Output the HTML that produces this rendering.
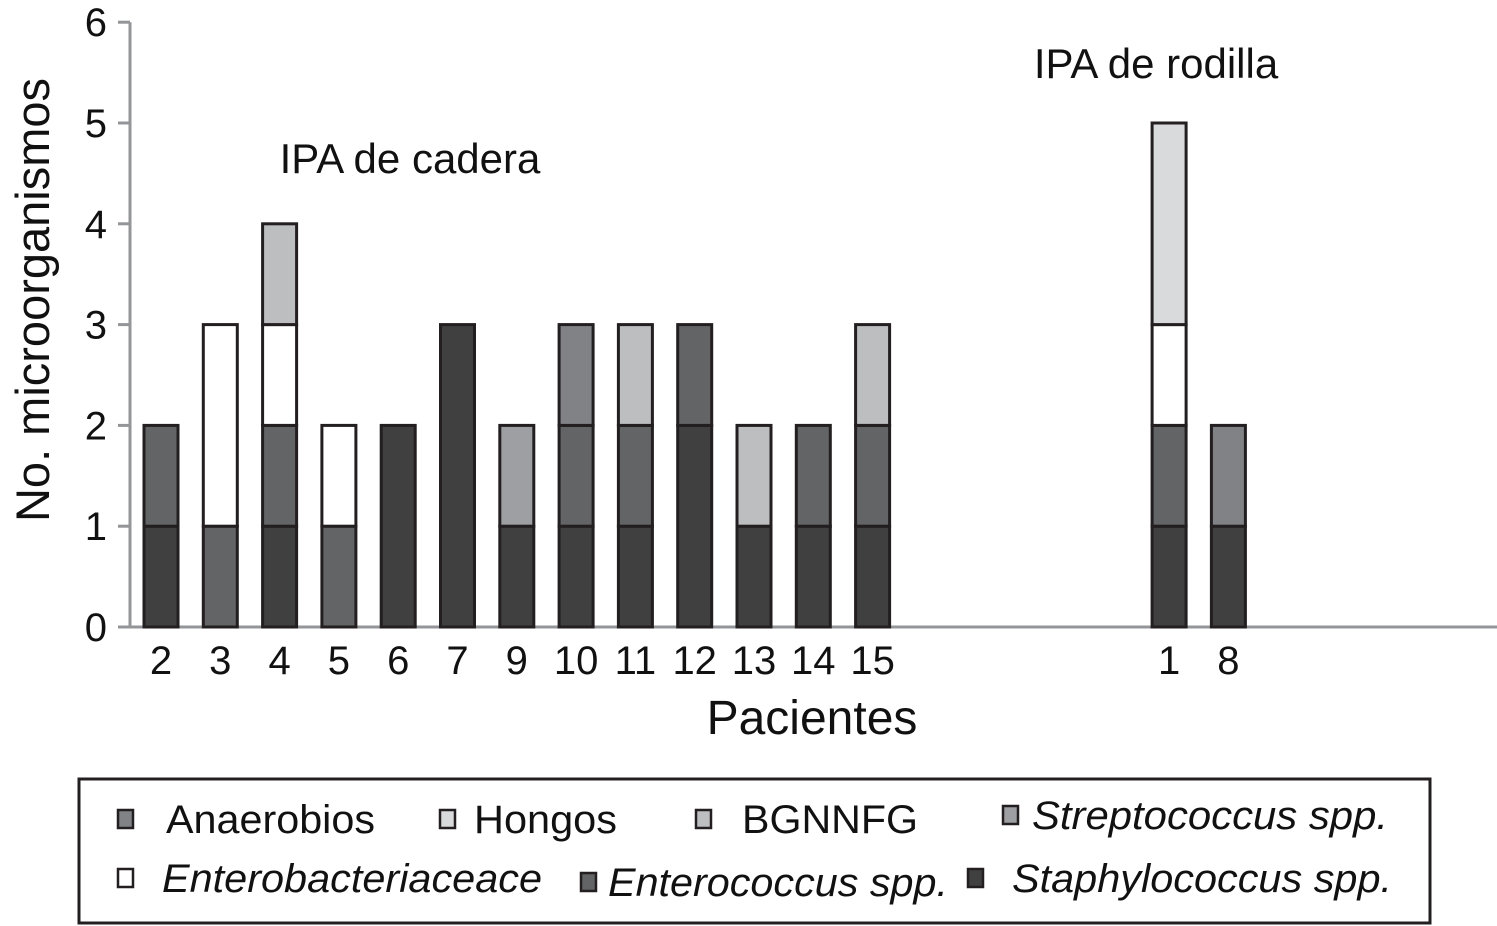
<!DOCTYPE html>
<html><head><meta charset="utf-8"><style>
body{margin:0;background:#fff}
svg{display:block;font-family:"Liberation Sans",sans-serif}
</style></head><body>
<svg id="c" width="1497" height="926" viewBox="0 0 1497 926">
<g id="axes"></g><g id="bars"></g><g id="legend"></g>
</svg>
<script>
const categories=["2","3","4","5","6","7","9","10","11","12","13","14","15","","","","","1","8"];
const seriesNames=["Staphylococcus spp.","Enterococcus spp.","Enterobacteriaceace","Streptococcus spp.","BGNNFG","Anaerobios","Hongos"];
const staph=[1,0,1,0,2,3,1,1,1,2,1,1,1,0,0,0,0,1,1];
const enterococ=[1,1,1,1,0,0,0,1,1,1,0,1,1,0,0,0,0,1,0];
const enterobac=[0,2,1,1,0,0,0,0,0,0,0,0,0,0,0,0,0,1,0];
const strep=[0,0,0,0,0,0,1,0,0,0,0,0,0,0,0,0,0,0,0];
const bgnnfg=[0,0,1,0,0,0,0,0,1,0,1,0,1,0,0,0,0,0,0];
const anaer=[0,0,0,0,0,0,0,1,0,0,0,0,0,0,0,0,0,0,1];
const hongos=[0,0,0,0,0,0,0,0,0,0,0,0,0,0,0,0,0,2,0];
const yTicks=[0,1,2,3,4,5,6];
const NS="http://www.w3.org/2000/svg";
const colors=["#404040","#636466","#ffffff","#9d9fa2","#bcbec0","#808285","#d9dadb"];
const series=[staph,enterococ,enterobac,strep,bgnnfg,anaer,hongos];
const x0=131,slot=59.3,y0=627,unit=100.8,bw=34;
const xc=i=>x0+30+i*slot;
const y=v=>y0-v*unit;
function mk(tag,attrs,parent,text){const e=document.createElementNS(NS,tag);for(const k in attrs)e.setAttribute(k,attrs[k]);if(text!=null)e.textContent=text;parent.appendChild(e);return e;}
const ax=document.getElementById('axes');
let e=mk('line',{x1:130,y1:y(6),x2:130,y2:y0+1,stroke:'#939598','stroke-width':3},ax);

e=mk('line',{x1:118,y1:y0,x2:1497,y2:y0,stroke:'#939598','stroke-width':3},ax);

yTicks.forEach(t=>{
 let l=mk('line',{x1:118,y1:y(t),x2:130,y2:y(t),stroke:'#939598','stroke-width':3},ax);
 
 let tx=mk('text',{x:107,y:y(t)+14,'text-anchor':'end','font-size':40,fill:'#111'},ax,t);
 
});
categories.forEach((c,i)=>{if(!c)return;
 let tx=mk('text',{x:xc(i),y:674,'text-anchor':'middle','font-size':40,fill:'#111'},ax,c);
 
});
e=mk('text',{x:812,y:734,'text-anchor':'middle','font-size':48,fill:'#111'},ax,'Pacientes');

e=mk('text',{x:0,y:0,'text-anchor':'middle','font-size':47,fill:'#111',transform:'translate(49,300) rotate(-90)'},ax,'No. microorganismos');

e=mk('text',{x:410,y:173,'text-anchor':'middle','font-size':42,fill:'#111'},ax,'IPA de cadera');

e=mk('text',{x:1156,y:78,'text-anchor':'middle','font-size':42,fill:'#111'},ax,'IPA de rodilla');

const bg=document.getElementById('bars');
categories.forEach((c,i)=>{let cum=0;
 series.forEach((s,k)=>{const v=s[i];if(!v)return;
  let r=mk('rect',{x:xc(i)-bw/2,y:y(cum+v),width:bw,height:v*unit,fill:colors[k],stroke:'#231f20','stroke-width':3},bg);
  
  cum+=v;});
});
const lg=document.getElementById('legend');
e=mk('rect',{x:79,y:779,width:1351,height:144,fill:'none',stroke:'#231f20','stroke-width':3},lg);

const legItems=[[5,"Anaerobios",118,166,833,false,209],[6,"Hongos",440,474,833,false,143],[4,"BGNNFG",696,742,833,false,176],[3,"Streptococcus spp.",1003,1032,829,true,356],
[2,"Enterobacteriaceace",118,162,892,true,380],[1,"Enterococcus spp.",581,608,896,true,340],[0,"Staphylococcus spp.",968,1012,892,true,380]];
legItems.forEach(it=>{
 let s=mk('rect',{x:it[2],y:it[4]-23,width:15,height:18,fill:colors[it[0]],stroke:'#231f20','stroke-width':2.5},lg);
 
 let t=mk('text',{x:it[3],y:it[4],'font-size':40,fill:'#111','font-style':it[5]?'italic':'normal',textLength:it[6],lengthAdjust:'spacingAndGlyphs'},lg,it[1]);
 
});
</script>
</body></html>
